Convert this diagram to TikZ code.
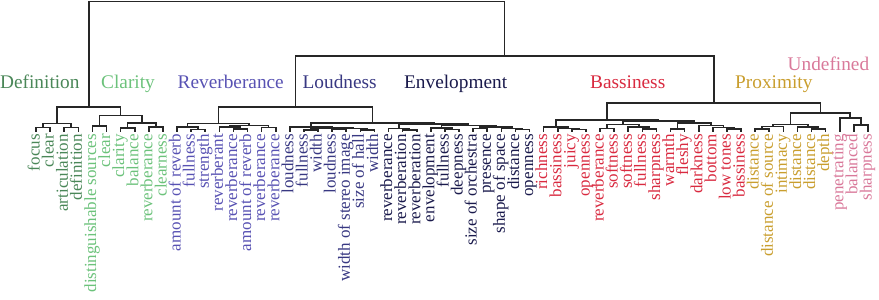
\documentclass[tikz,border=0pt]{standalone}
\usepackage{fontspec}
\setmainfont{Liberation Serif}
\usetikzlibrary{calc}
\definecolor{cDef}{HTML}{4A8758}
\definecolor{cCla}{HTML}{6CC27B}
\definecolor{cRev}{HTML}{5852B3}
\definecolor{cLou}{HTML}{383882}
\definecolor{cEnv}{HTML}{1A1A4C}
\definecolor{cBas}{HTML}{D92A40}
\definecolor{cPro}{HTML}{C99E2E}
\definecolor{cUnd}{HTML}{D9799A}
\tikzset{
  tree/.style={line width=1.6pt, draw=black!85},
  leaf/.style={rotate=90, anchor=base east, inner sep=0pt, font=\fontsize{17}{18}\selectfont},
  title/.style={anchor=base west, inner sep=0pt, font=\fontsize{19.3}{20}\selectfont}
}
\newcommand\dmerge[4]{%
  \path let \p1=(#2), \p2=(#3) in coordinate (#1) at ({(\x1+\x2)/2}, {-#4pt});
  \draw[tree] (#2) |- (#1) -| (#3);
}
\begin{document}
\begin{tikzpicture}[x=1pt,y=-1pt]
\useasboundingbox (0,0) rectangle (879,300);
\foreach [count=\i from 0] \t/\c in {
 focus/cDef, clear/cDef, articulation/cDef, definition/cDef,
 distinguishable sources/cCla, clear/cCla, clarity/cCla, balance/cCla, reverberance/cCla, clearness/cCla,
 amount of reverb/cRev, fullness/cRev, strength/cRev, reverberant/cRev, reverberance/cRev, amount of reverb/cRev, reverberance/cRev, reverberance/cRev,
 loudness/cLou, fullness/cLou, width/cLou, loudness/cLou, width of stereo image/cLou, size of hall/cLou, width/cLou,
 reverberance/cEnv, reverberation/cEnv, reverberation/cEnv, envelopment/cEnv, fullness/cEnv, deepness/cEnv, size of orchestra/cEnv, presence/cEnv, shape of space/cEnv, distance/cEnv, openness/cEnv,
 richness/cBas, bassiness/cBas, juicy/cBas, openness/cBas, reverberance/cBas, softness/cBas, softness/cBas, fullness/cBas, sharpness/cBas, warmth/cBas, fleshy/cBas, darkness/cBas, bottom/cBas, low tones/cBas, bassiness/cBas,
 distance/cPro, distance of source/cPro, intimacy/cPro, distance/cPro, distance/cPro, depth/cPro,
 penetrating/cUnd, balanced/cUnd, sharpness/cUnd}
{
  \coordinate (l\i) at ({36+14.1*\i},131.5);
  \node[leaf,text=\c] (t\i) at ({39.6+14.1*\i},134) {\t};
}
% titles
\node[title,text=cDef] (hDef) at (0,88) {Definition};
\node[title,text=cCla] (hCla) at (101,88) {Clarity};
\node[title,text=cRev] (hRev) at (177.5,88) {Reverberance};
\node[title,text=cLou] (hLou) at (302.5,88) {Loudness};
\node[title,text=cEnv] (hEnv) at (404,88) {Envelopment};
\node[title,text=cBas] (hBas) at (590,88) {Bassiness};
\node[title,text=cPro] (hPro) at (735,88) {Proximity};
\node[title,text=cUnd] (hUnd) at (787.5,70.5) {Undefined};
% Definition
\dmerge{d01}{l0}{l1}{127.5}
\dmerge{d23}{l2}{l3}{127.5}
\dmerge{dDef}{d01}{d23}{123.5}
% Clarity
\dmerge{d45}{l4}{l5}{126}
\dmerge{d67}{l6}{l7}{128}
\dmerge{d89}{l8}{l9}{127}
\dmerge{d69}{d67}{d89}{123}
\dmerge{dCla}{d45}{d69}{115.5}
\dmerge{dDC}{dDef}{dCla}{107}
% Reverberance
\dmerge{r1112}{l11}{l12}{129.5}
\dmerge{r10}{l10}{r1112}{127}
\dmerge{r1415}{l14}{l15}{129}
\dmerge{r13}{l13}{r1415}{127}
\dmerge{r1617}{l16}{l17}{127.5}
\dmerge{r1317}{r13}{r1617}{125.5}
\dmerge{dRev}{r10}{r1317}{123.5}
% Loudness
\dmerge{o1920}{l19}{l20}{130}
\dmerge{o2122}{l21}{l22}{129.5}
\dmerge{o2324}{l23}{l24}{130}
\dmerge{o2124}{o2122}{o2324}{128.5}
\dmerge{o1924}{o1920}{o2124}{128}
\dmerge{dLou}{l18}{o1924}{127}
% Envelopment
\dmerge{e2627}{l26}{l27}{130}
\dmerge{e25}{l25}{e2627}{128.5}
\dmerge{e2930}{l29}{l30}{129.5}
\dmerge{e28}{l28}{e2930}{128}
\dmerge{e3435}{l34}{l35}{129.5}
\dmerge{e33}{l33}{e3435}{128.5}
\dmerge{e3132}{l31}{l32}{128.5}
\dmerge{e3135}{e3132}{e33}{127}
\dmerge{e2835}{e28}{e3135}{125.5}
\dmerge{dEnv}{e25}{e2835}{124}
\dmerge{dLE}{dLou}{dEnv}{123}
\dmerge{dRLE}{dRev}{dLE}{107}
% Bassiness
\dmerge{b3839}{l38}{l39}{129.5}
\dmerge{b37}{l37}{b3839}{128.3}
\dmerge{b36}{l36}{b37}{127}
\dmerge{b4041}{l40}{l41}{128.5}
\dmerge{b4344}{l43}{l44}{129}
\dmerge{b42}{l42}{b4344}{127}
\dmerge{b4044}{b4041}{b42}{124.5}
\dmerge{b4546}{l45}{l46}{129}
\dmerge{b4950}{l49}{l50}{129}
\dmerge{b48}{l48}{b4950}{127.5}
\dmerge{b47}{l47}{b48}{125.5}
\dmerge{b4550}{b4546}{b47}{123}
\dmerge{b4050}{b4044}{b4550}{121}
\dmerge{dBas}{b36}{b4050}{120}
% Proximity
\dmerge{p5152}{l51}{l52}{129}
\dmerge{p53}{p5152}{l53}{126.5}
\dmerge{p5556}{l55}{l56}{129}
\dmerge{p54}{l54}{p5556}{127}
\dmerge{dPro}{p53}{p54}{124.5}
% Undefined
\dmerge{u5859}{l58}{l59}{125}
\dmerge{dUnd}{l57}{u5859}{118}
\dmerge{dPU}{dPro}{dUnd}{113}
\dmerge{dBPU}{dBas}{dPU}{103}
\dmerge{dRight}{dRLE}{dBPU}{56}
\dmerge{root}{dDC}{dRight}{1.5}
\end{tikzpicture}
\end{document}
